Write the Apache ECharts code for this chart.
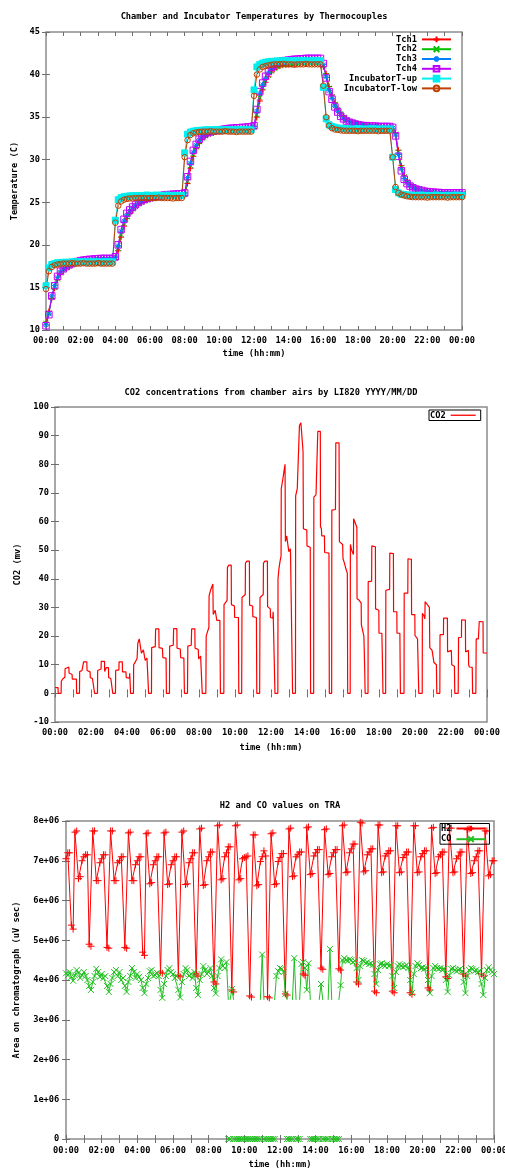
<!DOCTYPE html>
<html>
<head>
<meta charset="utf-8">
<title>Chamber readings</title>
<script src="https://cdn.jsdelivr.net/npm/echarts@6/dist/echarts.min.js"></script>
<style>
  html, body { margin: 0; padding: 0; background: #fff; }
  #chart { width: 505px; height: 1169px; }
</style>
</head>
<body>
<div id="chart"></div>
<script>
// ---------- panel 1: thermocouples, one reading every 10 minutes (00:00 .. 24:00)
var tch1 = [
  10.9,12.2,13.7,14.9,15.9,16.6,17.0,17.3,17.5,17.7,17.85,17.95,18.05,18.1,18.15,18.2,18.2,18.25,18.25,18.3,18.3,18.3,18.3,18.3,
  18.3,19.3,20.9,22.2,23.1,23.7,24.1,24.45,24.75,24.95,25.1,25.25,25.35,25.45,25.5,25.55,25.6,25.65,25.7,25.7,25.75,25.75,25.8,25.8,
  25.8,27.2,29.0,30.4,31.3,31.9,32.4,32.7,32.9,33.05,33.15,33.25,33.3,33.35,33.4,33.45,33.45,33.5,33.55,33.55,33.6,33.6,33.65,33.65,
  33.7,35.0,36.9,38.2,39.1,39.8,40.3,40.6,40.85,41.0,41.1,41.15,41.2,41.25,41.25,41.3,41.3,41.35,41.35,41.35,41.35,41.35,41.35,41.35,
  40.9,40.1,38.6,37.6,36.7,36.0,35.5,35.1,34.8,34.55,34.4,34.3,34.2,34.1,34.05,34.0,34.0,33.95,33.9,33.9,33.85,33.85,33.85,33.8,
  33.6,33.1,31.1,29.3,28.1,27.5,27.1,26.8,26.6,26.5,26.4,26.3,26.25,26.2,26.15,26.1,26.1,26.05,26.0,26.0,26.0,26.0,26.0,26.0,
  26.0
];
var tch2 = [
  10.8,12.0,13.8,15.0,16.0,16.7,17.05,17.35,17.55,17.7,17.85,17.95,18.05,18.1,18.15,18.2,18.2,18.25,18.25,18.3,18.3,18.3,18.3,18.3,
  18.4,19.6,21.2,22.5,23.3,23.8,24.2,24.5,24.8,25.0,25.15,25.3,25.4,25.5,25.55,25.6,25.65,25.7,25.75,25.75,25.8,25.8,25.85,25.85,
  25.9,27.5,29.3,30.6,31.5,32.1,32.5,32.8,33.0,33.1,33.2,33.3,33.35,33.4,33.45,33.5,33.5,33.55,33.6,33.6,33.65,33.65,33.7,33.7,
  33.8,35.3,37.3,38.5,39.3,39.9,40.4,40.7,40.9,41.05,41.15,41.2,41.25,41.3,41.3,41.35,41.35,41.4,41.4,41.4,41.4,41.4,41.4,41.4,
  41.0,39.9,38.4,37.4,36.5,35.9,35.4,35.0,34.7,34.5,34.35,34.25,34.15,34.1,34.05,34.0,33.95,33.95,33.9,33.9,33.85,33.85,33.85,33.85,
  33.7,33.0,30.9,29.1,28.0,27.4,27.0,26.75,26.6,26.5,26.4,26.3,26.25,26.2,26.15,26.1,26.1,26.05,26.05,26.0,26.0,26.0,26.0,26.0,
  26.0
];
var tch3 = [
  10.6,11.9,14.0,15.2,16.2,16.8,17.15,17.4,17.6,17.75,17.9,18.0,18.1,18.15,18.2,18.25,18.25,18.3,18.3,18.35,18.35,18.35,18.35,18.35,
  18.5,19.9,21.6,22.8,23.5,24.0,24.35,24.65,24.9,25.1,25.25,25.35,25.45,25.55,25.6,25.65,25.7,25.75,25.8,25.8,25.85,25.85,25.9,25.9,
  26.0,27.9,29.6,30.9,31.7,32.3,32.7,32.95,33.1,33.2,33.3,33.35,33.4,33.45,33.5,33.55,33.6,33.6,33.65,33.65,33.7,33.7,33.75,33.75,
  33.9,35.7,37.8,38.8,39.6,40.2,40.7,41.0,41.2,41.35,41.45,41.5,41.55,41.6,41.65,41.65,41.7,41.7,41.75,41.75,41.75,41.75,41.75,41.75,
  41.2,39.7,38.1,37.2,36.3,35.7,35.2,34.85,34.6,34.45,34.3,34.2,34.1,34.05,34.0,33.95,33.95,33.9,33.9,33.9,33.85,33.85,33.85,33.85,
  33.7,32.9,30.6,28.9,27.8,27.3,26.95,26.7,26.55,26.45,26.35,26.3,26.25,26.2,26.15,26.15,26.1,26.1,26.05,26.05,26.05,26.05,26.05,26.05,
  26.05
];
var tch4 = [
  10.5,11.8,14.0,15.2,16.3,16.9,17.2,17.45,17.65,17.8,17.95,18.05,18.15,18.2,18.25,18.3,18.3,18.35,18.35,18.4,18.4,18.4,18.4,18.4,
  18.6,20.0,21.8,23.0,23.7,24.1,24.45,24.75,25.0,25.2,25.35,25.45,25.55,25.65,25.7,25.75,25.8,25.85,25.9,25.9,25.95,25.95,26.0,26.0,
  26.1,28.0,29.8,31.1,31.8,32.4,32.8,33.05,33.2,33.3,33.4,33.45,33.5,33.55,33.6,33.65,33.7,33.7,33.75,33.75,33.8,33.8,33.85,33.85,
  34.0,35.9,38.0,39.0,39.8,40.4,40.85,41.15,41.35,41.5,41.6,41.65,41.7,41.75,41.8,41.8,41.85,41.85,41.9,41.9,41.9,41.9,41.9,41.9,
  41.3,39.6,38.0,37.1,36.2,35.6,35.1,34.8,34.55,34.4,34.3,34.2,34.1,34.05,34.0,34.0,33.95,33.95,33.95,33.9,33.9,33.9,33.9,33.9,
  33.8,32.8,30.4,28.7,27.7,27.2,26.9,26.7,26.55,26.45,26.4,26.3,26.25,26.2,26.2,26.15,26.15,26.1,26.1,26.1,26.1,26.1,26.1,26.1,
  26.1
];
var incubUp = [
  15.2,17.3,17.7,17.8,17.9,17.9,17.95,17.95,17.95,18.0,18.0,18.0,18.0,18.0,17.95,18.0,18.0,18.0,18.0,17.95,18.0,18.0,18.0,18.0,
  22.9,25.3,25.55,25.65,25.7,25.75,25.75,25.8,25.8,25.8,25.8,25.85,25.8,25.8,25.85,25.8,25.8,25.8,25.85,25.8,25.8,25.8,25.8,25.8,
  30.8,33.0,33.25,33.35,33.4,33.45,33.45,33.5,33.5,33.5,33.5,33.55,33.5,33.5,33.5,33.55,33.5,33.5,33.5,33.5,33.55,33.5,33.5,33.5,
  38.2,40.9,41.2,41.35,41.45,41.5,41.55,41.55,41.6,41.6,41.6,41.65,41.6,41.6,41.65,41.6,41.6,41.65,41.6,41.6,41.6,41.65,41.6,41.6,
  38.5,34.8,34.1,33.9,33.8,33.7,33.7,33.65,33.65,33.6,33.6,33.6,33.65,33.6,33.6,33.6,33.6,33.65,33.6,33.6,33.6,33.6,33.6,33.6,
  30.3,26.5,26.1,25.95,25.9,25.85,25.85,25.8,25.8,25.8,25.85,25.8,25.8,25.8,25.8,25.85,25.8,25.8,25.8,25.8,25.8,25.8,25.85,25.8,
  25.8
];
var incubLow = [
  14.8,16.9,17.4,17.6,17.7,17.75,17.8,17.8,17.8,17.85,17.8,17.8,17.8,17.85,17.8,17.8,17.8,17.8,17.85,17.8,17.8,17.8,17.8,17.8,
  22.6,24.6,25.1,25.3,25.4,25.45,25.45,25.5,25.5,25.5,25.5,25.45,25.5,25.5,25.5,25.55,25.5,25.5,25.5,25.5,25.45,25.5,25.5,25.5,
  30.3,32.3,32.9,33.1,33.2,33.25,33.3,33.3,33.3,33.35,33.3,33.3,33.3,33.3,33.35,33.3,33.3,33.3,33.25,33.3,33.3,33.3,33.3,33.3,
  37.5,40.0,40.6,40.9,41.0,41.1,41.15,41.2,41.2,41.2,41.25,41.2,41.2,41.2,41.15,41.2,41.2,41.2,41.25,41.2,41.2,41.2,41.2,41.2,
  38.7,35.0,34.0,33.7,33.55,33.5,33.45,33.4,33.4,33.4,33.4,33.4,33.35,33.4,33.4,33.4,33.4,33.4,33.4,33.35,33.4,33.4,33.4,33.4,
  30.3,26.8,26.1,25.9,25.8,25.7,25.65,25.6,25.6,25.6,25.6,25.6,25.55,25.6,25.6,25.6,25.6,25.6,25.6,25.55,25.6,25.6,25.6,25.6,
  25.6
];

// ---------- panel 2: LI820 CO2 signal, [hour, mV] at the corners of the trace
var co2Readings = [
  [0,2],[0.17,2],[0.18,0],[0.34,0],[0.35,4.2],[0.42,5.0],[0.55,5.6],[0.56,8.6],[0.62,9.2],[0.77,9.2],[0.78,7.1],[0.86,6.6],[0.95,6.6],[0.96,5.0],[1.19,5.0],[1.2,0],[1.36,0],
  [1.37,7.6],[1.5,8.0],[1.58,8.0],[1.59,11.0],[1.77,11.0],[1.78,8.0],[1.88,7.8],[1.95,7.5],[1.96,5.5],[2.08,5.2],[2.18,5.0],[2.2,0],[2.36,0],
  [2.37,8.0],[2.46,8.5],[2.56,8.5],[2.57,11.2],[2.75,11.2],[2.76,7.6],[2.84,7.6],[2.85,9.0],[2.97,9.0],[2.98,5.5],[3.1,5.2],[3.19,5.2],[3.21,0],[3.36,0],
  [3.37,8.0],[3.55,8.2],[3.56,11.0],[3.74,11.0],[3.75,7.5],[3.94,7.5],[3.96,5.5],[4.14,5.3],[4.15,7.0],[4.19,6.8],[4.2,0],[4.36,0],
  [4.37,10.0],[4.45,10.8],[4.5,11.5],[4.56,12.2],[4.6,17.5],[4.68,19.0],[4.79,19.2],[4.8,14.0],[4.9,14.0],[4.91,15.2],[5.0,15.0],[5.01,11.5],[5.1,11.5],[5.11,12.3],[5.18,12.0],[5.2,0],[5.36,0],
  [5.37,16.0],[5.57,16.3],[5.59,22.5],[5.77,22.5],[5.78,16.0],[5.97,15.7],[5.99,12.5],[6.17,12.3],[6.19,0],[6.36,0],
  [6.37,16.5],[6.57,16.8],[6.59,22.6],[6.77,22.6],[6.78,15.8],[6.96,15.5],[6.98,12.5],[7.16,12.3],[7.19,0],[7.36,0],
  [7.38,16.5],[7.57,16.8],[7.59,22.5],[7.77,22.5],[7.78,15.8],[7.96,15.3],[7.98,12.0],[8.08,12.0],[8.09,13.0],[8.16,13.0],[8.18,0],[8.38,0],
  [8.4,20.0],[8.47,21.5],[8.55,23.0],[8.56,34.0],[8.64,36.0],[8.77,38.2],[8.79,27.5],[8.88,28.0],[8.9,29.0],[8.97,29.0],[8.99,25.5],[9.16,25.5],[9.19,0],[9.38,0],
  [9.39,31.0],[9.5,31.5],[9.56,32.5],[9.58,44.0],[9.66,44.8],[9.79,44.8],[9.8,31.0],[9.9,30.5],[9.97,30.5],[9.98,26.5],[10.19,26.5],[10.21,0],[10.37,0],
  [10.39,33.5],[10.47,34.0],[10.57,34.5],[10.58,45.5],[10.66,46.2],[10.8,46.2],[10.81,30.8],[10.9,30.5],[10.98,30.5],[10.99,26.8],[11.19,26.5],[11.21,0],[11.37,0],
  [11.39,33.5],[11.47,34.0],[11.57,34.5],[11.58,45.5],[11.66,46.2],[11.8,46.2],[11.81,30.3],[11.9,30.0],[11.96,29.5],[11.97,26.5],[12.06,26.0],[12.1,26.3],[12.12,28.5],[12.2,29.0],[12.22,0],[12.38,0],
  [12.39,40.0],[12.44,43.5],[12.5,46.0],[12.56,48.0],[12.57,71.5],[12.65,74.5],[12.72,77.5],[12.78,80.0],[12.8,53.0],[12.87,55.0],[12.97,55.0],[12.99,49.5],[13.08,50.5],[13.18,50.5],[13.2,0],[13.36,0],
  [13.37,69.0],[13.46,71.5],[13.57,72.0],[13.58,93.5],[13.66,94.5],[13.77,94.5],[13.78,84.5],[13.8,57.5],[13.99,57.0],[14.0,51.5],[14.18,51.0],[14.2,0],[14.37,0],
  [14.38,68.5],[14.5,69.3],[14.59,69.3],[14.6,91.5],[14.74,91.5],[14.75,58.2],[14.8,57.5],[14.82,55.0],[14.97,55.0],[14.98,49.2],[15.22,49.0],[15.24,0],[15.37,0],
  [15.38,64.0],[15.58,64.2],[15.6,87.5],[15.78,87.5],[15.8,53.0],[15.9,52.5],[15.98,52.0],[16.0,47.0],[16.08,45.5],[16.16,43.5],[16.24,42.0],[16.26,0],[16.4,0],
  [16.41,52.0],[16.48,50.0],[16.58,48.5],[16.59,61.0],[16.68,59.5],[16.77,58.0],[16.78,33.0],[16.9,32.5],[17.01,31.5],[17.02,24.0],[17.12,23.5],[17.16,20.0],[17.2,10.0],[17.23,0],[17.39,0],
  [17.4,39.0],[17.59,39.2],[17.6,51.5],[17.8,51.2],[17.81,29.5],[17.99,29.0],[18.0,21.0],[18.16,21.0],[18.2,8.0],[18.22,0],[18.37,0],
  [18.38,36.0],[18.59,36.3],[18.6,49.0],[18.8,48.8],[18.81,28.5],[18.99,28.5],[19.0,21.0],[19.16,21.0],[19.19,0],[19.39,0],
  [19.4,35.0],[19.6,35.0],[19.61,47.0],[19.8,46.8],[19.81,27.5],[19.99,27.5],[20.0,20.2],[20.1,20.0],[20.14,19.0],[20.19,19.0],[20.21,0],[20.4,0],
  [20.41,28.0],[20.5,27.0],[20.55,26.0],[20.56,32.0],[20.65,31.5],[20.8,30.0],[20.82,16.0],[20.93,16.0],[20.95,15.0],[21.03,15.0],[21.05,10.8],[21.19,10.0],[21.21,0],[21.38,0],
  [21.39,20.5],[21.58,20.5],[21.59,26.3],[21.8,26.3],[21.81,14.5],[21.88,14.7],[21.92,15.0],[22.02,15.0],[22.04,10.0],[22.19,9.5],[22.21,0],[22.4,0],
  [22.42,19.5],[22.58,19.6],[22.59,25.7],[22.8,25.6],[22.81,14.5],[22.87,14.8],[22.9,15.0],[22.97,15.0],[22.98,10.0],[23.02,9.2],[23.18,9.1],[23.2,0],[23.38,0],
  [23.4,19.0],[23.52,19.0],[23.56,19.2],[23.57,25.1],[23.78,25.0],[23.79,14.1],[24.0,14.1]
];

// ---------- panel 3: TRA chromatograph areas, one run every 6 minutes, in units of 1e+06 uV sec
var h2Area = [
  7.05,7.2,7.2,5.38,5.28,7.72,7.75,6.55,6.6,7.0,
  7.1,7.15,7.15,4.9,4.85,7.75,7.75,6.5,6.5,6.95,
  7.05,7.15,7.15,4.82,4.8,7.75,7.75,6.5,6.5,6.95,
  7.0,7.1,7.1,4.82,4.8,7.7,7.72,6.5,6.5,6.9,
  7.0,7.1,7.1,4.7,4.62,7.68,7.7,6.42,6.45,6.9,
  7.0,7.1,7.1,4.2,4.17,7.7,7.72,6.4,6.42,6.9,
  7.0,7.1,7.1,4.12,4.08,7.72,7.75,6.4,6.42,6.95,
  7.05,7.2,7.2,4.15,4.1,7.8,7.82,6.38,6.4,7.0,
  7.1,7.22,7.22,3.95,3.9,7.88,7.9,6.52,6.55,7.1,
  7.2,7.35,7.35,3.75,3.7,7.88,7.9,6.52,6.55,7.05,
  7.08,7.1,7.12,3.6,3.57,7.65,7.65,6.37,6.4,6.98,
  7.1,7.25,7.12,3.58,3.55,7.68,7.7,6.4,6.42,6.98,
  7.08,7.18,7.18,3.65,3.62,7.8,7.82,6.6,6.62,7.1,
  7.15,7.22,7.22,4.15,4.12,7.83,7.85,6.65,6.68,7.12,
  7.2,7.28,7.28,4.3,4.27,7.78,7.8,6.65,6.68,7.1,
  7.2,7.28,7.28,4.28,4.25,7.88,7.9,6.7,6.72,7.2,
  7.3,7.42,7.42,3.95,3.9,7.97,7.95,6.72,6.75,7.15,
  7.22,7.3,7.3,3.72,3.68,7.9,7.9,6.7,6.72,7.12,
  7.18,7.25,7.25,3.72,3.68,7.88,7.88,6.7,6.72,7.08,
  7.15,7.22,7.22,3.68,3.64,7.88,7.88,6.7,6.72,7.1,
  7.18,7.25,7.25,3.8,3.75,7.82,7.84,6.68,6.7,7.1,
  7.15,7.22,7.22,4.08,4.04,7.82,7.82,6.7,6.72,7.05,
  7.12,7.22,7.22,4.15,4.1,7.78,7.8,6.68,6.7,7.0,
  7.1,7.25,7.25,4.15,4.1,7.75,7.75,6.62,6.65,7.0,
  7.0
];
// 0 = run where CO was not detected
var coArea = [
  4.17,4.12,4.2,4.08,3.98,4.12,4.25,4.18,4.05,4.12,
  4.2,4.1,4.0,3.85,3.75,3.95,4.1,4.28,4.2,4.08,
  4.15,4.05,4.1,3.85,3.7,3.9,4.05,4.2,4.25,4.1,
  4.2,4.0,4.05,3.85,3.7,3.95,4.1,4.3,4.2,4.05,
  4.15,4.08,4.0,3.8,3.67,3.9,4.05,4.22,4.25,4.1,
  4.12,4.18,4.1,3.75,3.55,3.9,4.1,4.25,4.3,4.2,
  4.15,4.05,4.1,3.75,3.56,3.95,4.15,4.3,4.25,4.1,
  4.15,4.05,4.2,3.8,3.62,4.0,4.15,4.35,4.25,4.15,
  4.2,4.3,4.1,3.8,3.66,4.1,4.3,4.52,4.35,4.3,
  4.45,0,0,3.77,0,0,0,0,0,0,
  0,0,0,0,0,0,0,0,0,0,
  4.64,0,0,0,0,0,0,0,4.1,4.22,
  4.3,4.28,4.2,3.65,0,0,0,0,4.55,0,
  0,0,4.4,4.45,4.3,3.75,4.42,0,0,0,
  0,0,0,3.9,0,0,0,0,4.78,0,
  0,0,0,0,3.87,4.5,4.55,4.5,4.48,4.52,
  4.5,4.45,4.48,4.3,4.0,4.35,4.5,4.48,4.42,4.45,
  4.4,4.42,4.38,4.15,3.9,4.25,4.4,4.42,4.38,4.35,
  4.4,4.35,4.38,4.1,3.8,4.2,4.35,4.4,4.35,4.32,
  4.35,4.38,4.3,4.0,3.67,4.15,4.35,4.42,4.38,4.3,
  4.32,4.28,4.3,4.0,3.67,4.1,4.3,4.35,4.3,4.28,
  4.3,4.25,4.28,4.0,3.7,4.12,4.28,4.3,4.25,4.22,
  4.25,4.28,4.22,3.95,3.67,4.1,4.25,4.3,4.28,4.22,
  4.25,4.2,4.22,3.9,3.62,4.05,4.25,4.32,4.25,4.2,
  4.15
];
var coCut = 3.5; // drop lines of the CO trace end here in the source plot

var FONT = 'DejaVu Sans Mono';
var txt = { fontFamily: FONT, fontSize: 8.7, fontWeight: 'bold', color: '#000' };
var BORDER = '#8c8c8c', TICK = '#6e6e6e';
var SYM_PLUS = 'path://M0,5L10,5M5,0L5,10';
var SYM_CROSS = 'path://M0,0L10,10M0,10L10,0';
var SYM_STAR = 'path://M0,5L10,5M5,0L5,10M1.5,1.5L8.5,8.5M1.5,8.5L8.5,1.5';

var tempTimes = tch1.map(function (v, i) { return i / 6; });   // 10 min steps
var traTimes = h2Area.map(function (v, i) { return i / 10; });  // 6 min steps

function pairs(times, vals) {
  return vals.map(function (v, i) { return [times[i], v]; });
}

function hhmm(v) {
  if (v % 2 !== 0) return '';
  var h = v % 24;
  return (h < 10 ? '0' : '') + h + ':00';
}

// CO trace without the non-detected runs; those go to their own series on the zero line
function coMainData() {
  var out = [];
  for (var i = 0; i < coArea.length; i++) {
    var t = traTimes[i], v = coArea[i];
    if (v > 0) { out.push([t, v]); continue; }
    if (i > 0 && coArea[i - 1] > 0) out.push({ value: [t, coCut], symbol: 'none' });
    out.push([t, '-']);
    if (i < coArea.length - 1 && coArea[i + 1] > 0) out.push({ value: [t, coCut], symbol: 'none' });
  }
  return out;
}
function coZeroData() {
  return coArea.map(function (v, i) { return [traTimes[i], v === 0 ? 0 : '-']; });
}

function xPair(grid, labelMargin, nameGap) {
  var tick = { inside: true, length: 4, lineStyle: { color: TICK, width: 1 } };
  return [{
    type: 'value', gridIndex: grid, position: 'bottom', min: 0, max: 24, interval: 1,
    name: 'time (hh:mm)', nameLocation: 'middle', nameGap: nameGap, nameTextStyle: txt, nameMoveOverlap: false,
    axisLine: { show: false }, axisTick: tick, splitLine: { show: false },
    axisLabel: Object.assign({ margin: labelMargin, formatter: hhmm, showMinLabel: true, showMaxLabel: true, hideOverlap: false }, txt)
  }, {
    type: 'value', gridIndex: grid, position: 'top', min: 0, max: 24, interval: 1,
    axisLine: { show: false }, axisTick: tick, splitLine: { show: false }, axisLabel: { show: false }
  }];
}
function yPair(grid, min, max, step, name, nameGap, labelMargin, fmt) {
  var tick = { inside: true, length: 4, lineStyle: { color: TICK, width: 1 } };
  return [{
    type: 'value', gridIndex: grid, position: 'left', min: min, max: max, interval: step,
    name: name, nameLocation: 'middle', nameGap: nameGap, nameTextStyle: txt, nameMoveOverlap: false,
    axisLine: { show: false }, axisTick: tick, splitLine: { show: false },
    axisLabel: Object.assign({ margin: labelMargin, formatter: fmt, showMinLabel: true, showMaxLabel: true, hideOverlap: false }, txt)
  }, {
    type: 'value', gridIndex: grid, position: 'right', min: min, max: max, interval: step,
    axisLine: { show: false }, axisTick: tick, splitLine: { show: false }, axisLabel: { show: false }
  }];
}

function tempSeries(name, vals, color, symbol, size, hollow) {
  return {
    name: name, type: 'line', xAxisIndex: 0, yAxisIndex: 0,
    data: pairs(tempTimes, vals), symbol: symbol, symbolSize: size,
    lineStyle: { color: color, width: 1 },
    itemStyle: { color: hollow ? 'rgba(0,0,0,0)' : color, borderColor: color, borderWidth: 1 },
    silent: true, animation: false, clip: false
  };
}

var grids = [
  { left: 46, top: 32, width: 416, height: 298 },
  { left: 55, top: 407, width: 432, height: 315 },
  { left: 66, top: 821, width: 428, height: 318 }
].map(function (g) {
  return Object.assign({ show: true, borderColor: BORDER, borderWidth: 1.5, backgroundColor: 'transparent',
    containLabel: false, outerBoundsMode: 'none' }, g);
});

var chart = echarts.init(document.getElementById('chart'), null, { renderer: 'canvas' });
chart.setOption({
  backgroundColor: '#fff',
  animation: false,
  graphic: [
    { type: 'text', x: 254, y: 16.5, style: { text: 'Chamber and Incubator Temperatures by Thermocouples', font: 'bold 8.7px "' + FONT + '"', fill: '#000', align: 'center', verticalAlign: 'middle' } },
    { type: 'text', x: 271, y: 392.3, style: { text: 'CO2 concentrations from chamber airs by LI820 YYYY/MM/DD', font: 'bold 8.7px "' + FONT + '"', fill: '#000', align: 'center', verticalAlign: 'middle' } },
    { type: 'text', x: 280, y: 805.3, style: { text: 'H2 and CO values on TRA', font: 'bold 8.7px "' + FONT + '"', fill: '#000', align: 'center', verticalAlign: 'middle' } }
  ],
  grid: grids,
  xAxis: [].concat(xPair(0, 6, 19), xPair(1, 6.6, 21.3), xPair(2, 7.5, 21.6)),
  yAxis: [].concat(
    yPair(0, 10, 45, 5, 'Temperature (C)', 26.5, 6),
    yPair(2 - 1, -10, 100, 10, 'CO2 (mv)', 33.2, 6),
    yPair(2, 0, 8, 1, 'Area on chromatograph (uV sec)', 45, 6.7, function (v) { return v === 0 ? '0' : v + 'e+06'; })
  ),
  legend: [
    {
      data: ['Tch1', 'Tch2', 'Tch3', 'Tch4', 'IncubatorT-up', 'IncubatorT-low'],
      orient: 'vertical', align: 'right', right: 53, top: 34.5, padding: 0, itemGap: 0,
      itemWidth: 29, itemHeight: 7, selectedMode: false,
      textStyle: Object.assign({ lineHeight: 9.8 }, txt)
    },
    {
      data: [{ name: 'CO2', icon: 'rect', itemStyle: { color: '#ff0000' } }],
      orient: 'vertical', align: 'right', left: 429, top: 410, padding: [0, 5, 0, 1],
      itemWidth: 25, itemHeight: 1.3, selectedMode: false,
      borderColor: '#000', borderWidth: 1,
      textStyle: Object.assign({ lineHeight: 10.5 }, txt)
    },
    {
      data: ['H2', 'CO'],
      orient: 'vertical', align: 'right', left: 440, top: 823.5, padding: [0, 3, 0, 1], itemGap: 0.7,
      itemWidth: 29, itemHeight: 7, selectedMode: false,
      borderColor: '#000', borderWidth: 1,
      textStyle: Object.assign({ lineHeight: 10 }, txt)
    }
  ],
  series: [
    tempSeries('Tch1', tch1, '#ff0000', SYM_PLUS, 6, false),
    tempSeries('Tch2', tch2, '#00c000', SYM_CROSS, 5, false),
    tempSeries('Tch3', tch3, '#0080ff', SYM_STAR, 6, false),
    tempSeries('Tch4', tch4, '#c000ff', 'rect', 6.5, true),
    tempSeries('IncubatorT-up', incubUp, '#00eeee', 'rect', 6, false),
    tempSeries('IncubatorT-low', incubLow, '#c04000', 'circle', 5.5, true),
    {
      name: 'CO2', type: 'line', xAxisIndex: 2, yAxisIndex: 2, data: co2Readings,
      symbol: 'none', lineStyle: { color: '#ff0000', width: 1.2 }, itemStyle: { color: '#ff0000' },
      silent: true, animation: false
    },
    {
      name: 'H2', type: 'line', xAxisIndex: 4, yAxisIndex: 4, data: pairs(traTimes, h2Area),
      symbol: SYM_PLUS, symbolSize: 7,
      lineStyle: { color: '#ff0000', width: 1 },
      itemStyle: { color: '#ff0000', borderColor: '#ff0000', borderWidth: 1 },
      silent: true, animation: false, clip: false
    },
    {
      name: 'CO', type: 'line', xAxisIndex: 4, yAxisIndex: 4, data: coMainData(), connectNulls: false,
      symbol: SYM_CROSS, symbolSize: 6,
      lineStyle: { color: '#20c020', width: 1 },
      itemStyle: { color: '#20c020', borderColor: '#20c020', borderWidth: 1 },
      silent: true, animation: false, clip: false
    },
    {
      name: 'CO', type: 'line', xAxisIndex: 4, yAxisIndex: 4, data: coZeroData(), connectNulls: false,
      symbol: SYM_CROSS, symbolSize: 6,
      lineStyle: { color: '#20c020', width: 1 },
      itemStyle: { color: '#20c020', borderColor: '#20c020', borderWidth: 1 },
      silent: true, animation: false, clip: false
    }
  ]
});
</script>
</body>
</html>
